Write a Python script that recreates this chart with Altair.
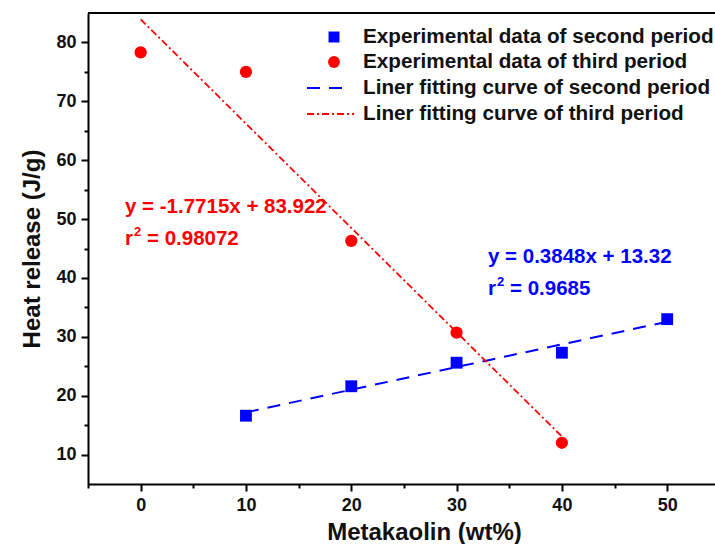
import altair as alt
import pandas as pd

# Measured heat release (J/g) versus metakaolin content (wt%)
mk_second = [10, 20, 30, 40, 50]
heat_second = [16.6, 21.6, 25.6, 27.3, 33.0]
mk_third = [0, 10, 20, 30, 40]
heat_third = [78.3, 75.0, 46.3, 30.7, 12.0]

# Linear fits (slope, intercept, r^2) and the x-range each fit spans
fit_second = (0.3848, 13.32, "0.9685")
fit_third = (-1.7715, 83.922, "0.98072")
fit_range_second = [10, 50]
fit_range_third = [0, 40]

legend_labels = [
    "Experimental data of second period",
    "Experimental data of third period",
    "Liner fitting curve of second period",
    "Liner fitting curve of third period",
]

BLUE = "#0000ff"
RED = "#ff0000"
FONT = "Liberation Sans"
W, H = 627, 471

x_scale = alt.Scale(domain=[-5, 54.54], nice=False, zero=False)
y_scale = alt.Scale(domain=[5, 85], nice=False, zero=False)

major = {"condition": {"test": "datum.value % 10 === 0", "value": 7}, "value": 4}

x_enc = alt.X(
    "x:Q", scale=x_scale,
    axis=alt.Axis(
        title="Metakaolin (wt%)", values=list(range(-5, 55, 5)),
        labelExpr="(datum.value % 10 === 0 && datum.value >= 0) ? datum.label : ''",
        tickSize=major, grid=False, titleX=336, titleAlign="center",
    ),
)
y_enc = alt.Y(
    "y:Q", scale=y_scale,
    axis=alt.Axis(
        title="Heat release (J/g)", values=list(range(10, 85, 5)),
        labelExpr="datum.value % 10 === 0 ? datum.label : ''",
        tickSize=major, grid=False,
    ),
)


def fit_frame(fit, xr):
    slope, intercept, _ = fit
    return pd.DataFrame({"x": xr, "y": [slope * v + intercept for v in xr]})


pts_second = alt.Chart(pd.DataFrame({"x": mk_second, "y": heat_second})).mark_point(
    shape="square", filled=True, color=BLUE, size=140, opacity=1
).encode(x=x_enc, y=y_enc)

pts_third = alt.Chart(pd.DataFrame({"x": mk_third, "y": heat_third})).mark_point(
    shape="circle", filled=True, color=RED, size=150, opacity=1
).encode(x=x_enc, y=y_enc)

line_second = alt.Chart(fit_frame(fit_second, fit_range_second)).mark_line(
    color=BLUE, strokeWidth=2, strokeDash=[13, 9]
).encode(x=x_enc, y=y_enc)

line_third = alt.Chart(fit_frame(fit_third, fit_range_third)).mark_line(
    color=RED, strokeWidth=1.8, strokeDash=[7, 3, 2, 3]
).encode(x=x_enc, y=y_enc)

one = pd.DataFrame({"a": [0]})

# Frame line along the top of the plot area
top_rule = alt.Chart(one).mark_rule(color="black", strokeWidth=2).encode(
    x=alt.value(0), x2=alt.value(W), y=alt.value(0)
)


def txt(t, color, size, x, y):
    return alt.Chart(one).mark_text(
        text=t, color=color, font=FONT, fontSize=size, fontWeight="bold",
        align="left", baseline="alphabetic",
    ).encode(x=alt.value(x), y=alt.value(y))


def eq_text(fit, color, x0, y0):
    slope, intercept, r2 = fit
    sign = "+" if intercept >= 0 else "-"
    return [
        txt(f"y = {slope}x {sign} {abs(intercept)}", color, 20.5, x0, y0),
        txt("r", color, 20.5, x0, y0 + 32),
        txt("2", color, 13, x0 + 9, y0 + 23),
        txt(f"= {r2}", color, 20.5, x0 + 22, y0 + 32),
    ]


annotations = eq_text(fit_third, RED, 37, 200) + eq_text(fit_second, BLUE, 400, 250)

# Hand-built legend in the upper right of the plot
leg_rows = [24, 49, 75, 101]
legend_layers = [
    alt.Chart(one).mark_point(shape="square", filled=True, color=BLUE, size=120, opacity=1)
    .encode(x=alt.value(246), y=alt.value(leg_rows[0])),
    alt.Chart(one).mark_point(shape="circle", filled=True, color=RED, size=140, opacity=1)
    .encode(x=alt.value(246), y=alt.value(leg_rows[1])),
    alt.Chart(one).mark_rule(color=BLUE, strokeWidth=2, strokeDash=[13, 9])
    .encode(x=alt.value(219), x2=alt.value(258), y=alt.value(leg_rows[2])),
    alt.Chart(one).mark_rule(color=RED, strokeWidth=1.8, strokeDash=[7, 3, 2, 3])
    .encode(x=alt.value(219), x2=alt.value(266), y=alt.value(leg_rows[3])),
]
for label, ry in zip(legend_labels, leg_rows):
    legend_layers.append(
        alt.Chart(one).mark_text(
            text=label, font=FONT, fontSize=20.7, fontWeight="bold", color="#111111",
            align="left", baseline="middle",
        ).encode(x=alt.value(275), y=alt.value(ry))
    )

chart = alt.layer(
    line_second, line_third, pts_second, pts_third, top_rule, *annotations, *legend_layers
).properties(
    width=W, height=H,
    autosize=alt.AutoSizeParams(type="none"),
    padding={"left": 88, "top": 13, "right": 0, "bottom": 60},
).configure_view(
    stroke=None
).configure_axis(
    domainColor="black", domainWidth=2, tickColor="black", tickWidth=2,
    labelFont=FONT, labelFontSize=18, labelFontWeight="bold", labelColor="#111111",
    titleFont=FONT, titleFontSize=24, titleFontWeight="bold", titleColor="#111111",
    labelPadding=5,
).configure_axisX(
    titlePadding=6
).configure_axisY(
    titlePadding=11
)

chart.save("out.html", embed_options={"renderer": "svg", "actions": False})
